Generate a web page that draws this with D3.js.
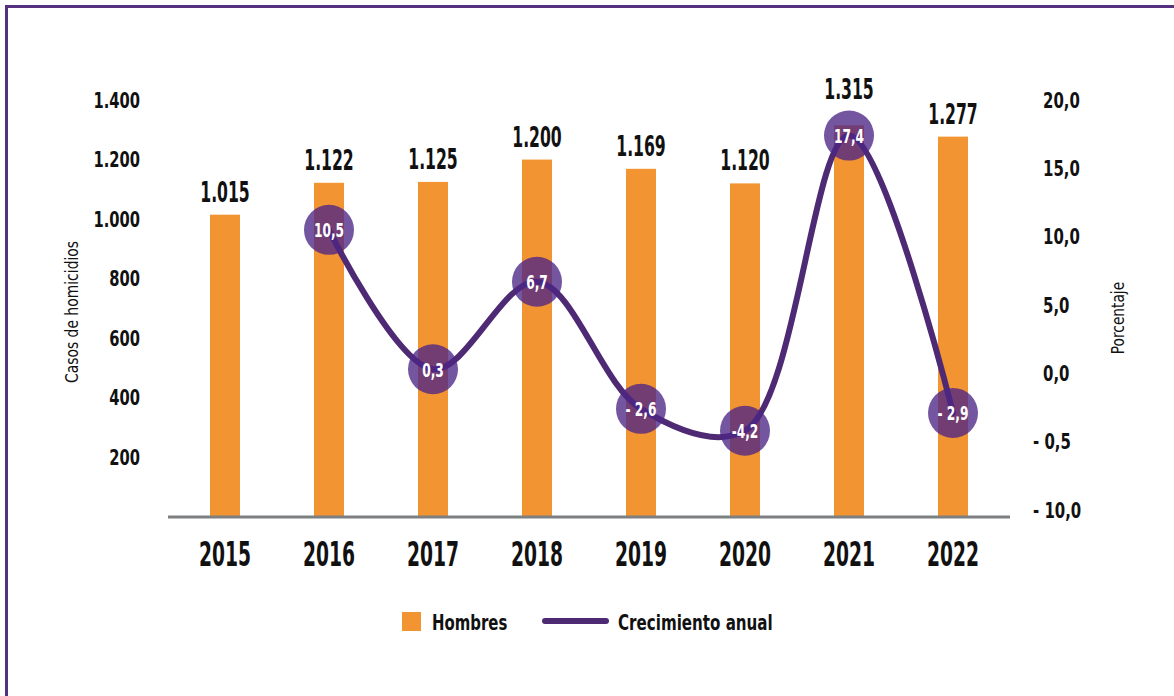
<!DOCTYPE html>
<html>
<head>
<meta charset="utf-8">
<script src="https://cdn.jsdelivr.net/npm/d3@7"></script>
<style>
  body { margin: 0; background: #fff; }
  text { font-family: "DejaVu Sans Condensed", "DejaVu Sans", sans-serif; }
</style>
</head>
<body>
<div id="chart"></div>
<script>
// data
var years = ["2015", "2016", "2017", "2018", "2019", "2020", "2021", "2022"];
var hombres = [1015, 1122, 1125, 1200, 1169, 1120, 1315, 1277];
var growthYears = ["2016", "2017", "2018", "2019", "2020", "2021", "2022"];
var growth = [10.5, 0.3, 6.7, -2.6, -4.2, 17.4, -2.9];
var growthLabels = ["10,5", "0,3", "6,7", "- 2,6", "-4,2", "17,4", "- 2,9"];
var leftTicks = [200, 400, 600, 800, 1000, 1200, 1400];
var rightTicks = [-10, -5, 0, 5, 10, 15, 20];
var rightTickLabels = ["- 10,0", "- 0,5", "0,0", "5,0", "10,0", "15,0", "20,0"];
var legendLabels = ["Hombres", "Crecimiento anual"];

var orange = "#f39433",
    purple = "#4f2a74",
    dot = "rgb(76,37,133)";

var width = 1174, height = 696;

var es = d3.formatLocale({decimal: ",", thousands: ".", grouping: [3], currency: ["", ""]});
var fmt = es.format(",.0f");

// the original uses a condensed face, so squeeze the text horizontally
function at(px, py, sx) {
  return "translate(" + px + "," + py + ") scale(" + sx + ",1)";
}

var svg = d3.select("#chart")
  .append("svg")
    .attr("width", width)
    .attr("height", height);

// purple frame (top + left)
svg.append("path")
  .attr("d", "M6.5," + height + "V6.5H" + width)
  .attr("fill", "none")
  .attr("stroke", "#55307f")
  .attr("stroke-width", 3);

var x = d3.scalePoint().domain(years).range([225, 953]);
var y = d3.scaleLinear().domain([0, 1400]).range([517, 100]);
var y2 = d3.scaleLinear().domain([-10, 20]).range([510, 100]);

var barW = 30;

// bars
svg.append("g")
  .selectAll("rect")
  .data(years)
  .enter()
  .append("rect")
    .attr("x", function (d) { return x(d) - barW / 2; })
    .attr("y", function (d, i) { return y(hombres[i]); })
    .attr("width", barW)
    .attr("height", function (d, i) { return y(0) - y(hombres[i]); })
    .attr("fill", orange);

// baseline
svg.append("line")
  .attr("x1", 168).attr("x2", 1010)
  .attr("y1", y(0)).attr("y2", y(0))
  .attr("stroke", "#7d7f80")
  .attr("stroke-width", 3);

// value labels above bars (kept clear of the growth bubbles)
svg.append("g")
  .selectAll("text")
  .data(years)
  .enter()
  .append("text")
    .attr("transform", function (d, i) {
      var ty = y(hombres[i]) - 13;
      var k = growthYears.indexOf(d);
      if (k >= 0) ty = Math.min(ty, y2(growth[k]) - 25 - 12);
      return at(x(d), ty, 0.6);
    })
    .attr("text-anchor", "middle")
    .style("font-size", "29px")
    .style("font-weight", "bold")
    .attr("fill", "#111")
    .text(function (d, i) { return fmt(hombres[i]); });

// x labels
svg.append("g")
  .selectAll("text")
  .data(years)
  .enter()
  .append("text")
    .attr("transform", function (d) { return at(x(d), 566, 0.63); })
    .attr("text-anchor", "middle")
    .style("font-size", "33px")
    .style("font-weight", "bold")
    .attr("fill", "#111")
    .text(function (d) { return d; });

// left ticks
svg.append("g")
  .selectAll("text")
  .data(leftTicks)
  .enter()
  .append("text")
    .attr("transform", function (d) { return at(140, y(d) + 7.5, 0.78); })
    .attr("text-anchor", "end")
    .style("font-size", "21px")
    .style("font-weight", "bold")
    .attr("fill", "#111")
    .text(function (d) { return fmt(d); });

// right ticks
svg.append("g")
  .selectAll("text")
  .data(rightTicks)
  .enter()
  .append("text")
    .attr("transform", function (d, i) {
      var tx = rightTickLabels[i].indexOf("- ") === 0 ? 1033 : 1043;
      return at(tx, y2(d) + 7.5, 0.79);
    })
    .style("font-size", "21px")
    .style("font-weight", "bold")
    .attr("fill", "#111")
    .text(function (d, i) { return rightTickLabels[i]; });

// axis titles
svg.append("text")
  .attr("transform", "translate(78,312) rotate(-90) scale(0.86,1)")
  .attr("text-anchor", "middle")
  .style("font-size", "18px")
  .attr("fill", "#111")
  .text("Casos de homicidios");

svg.append("text")
  .attr("transform", "translate(1124,318) rotate(-90) scale(0.85,1)")
  .attr("text-anchor", "middle")
  .style("font-size", "18px")
  .attr("fill", "#111")
  .text("Porcentaje");

// growth line
var pts = growthYears.map(function (d, i) { return {year: d, v: growth[i], label: growthLabels[i]}; });

var line = d3.line()
  .x(function (d) { return x(d.year); })
  .y(function (d) { return y2(d.v); })
  .curve(d3.curveCatmullRom.alpha(0.5));

svg.append("path")
  .datum(pts)
  .attr("d", line)
  .attr("fill", "none")
  .attr("stroke", purple)
  .attr("stroke-width", 6)
  .attr("stroke-linecap", "round");

var bub = svg.append("g")
  .selectAll("g")
  .data(pts)
  .enter()
  .append("g")
    .attr("transform", function (d) { return "translate(" + x(d.year) + "," + y2(d.v) + ")"; });

bub.append("circle")
  .attr("r", 25)
  .attr("fill", dot)
  .attr("fill-opacity", 0.78);

bub.append("text")
  .attr("transform", at(0, 7.5, 0.68))
  .attr("text-anchor", "middle")
  .style("font-size", "20px")
  .style("font-weight", "bold")
  .attr("fill", "#fff")
  .text(function (d) { return d.label; });

// legend
var leg = svg.append("g");
leg.append("rect")
  .attr("x", 402).attr("y", 612)
  .attr("width", 19).attr("height", 19)
  .attr("fill", orange);
leg.append("text")
  .attr("transform", at(432, 630, 0.79))
  .style("font-size", "21px")
  .style("font-weight", "bold")
  .attr("fill", "#111")
  .text(legendLabels[0]);
leg.append("line")
  .attr("x1", 545).attr("x2", 606)
  .attr("y1", 621).attr("y2", 621)
  .attr("stroke", purple)
  .attr("stroke-width", 6)
  .attr("stroke-linecap", "round");
leg.append("text")
  .attr("transform", at(618, 630, 0.8))
  .style("font-size", "21px")
  .style("font-weight", "bold")
  .attr("fill", "#111")
  .text(legendLabels[1]);
</script>
</body>
</html>
